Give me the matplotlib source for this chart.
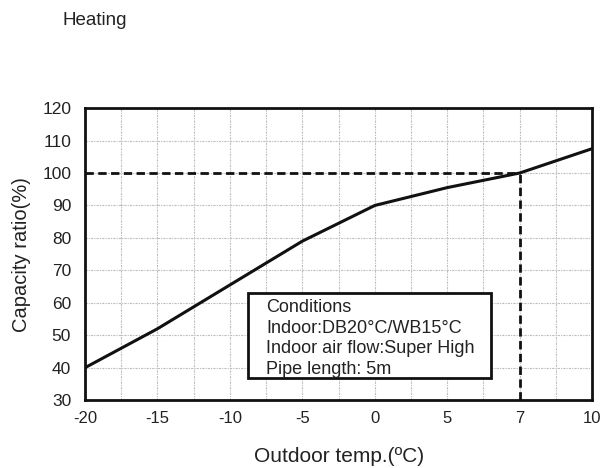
import numpy as np
import matplotlib
matplotlib.use("Agg")
import matplotlib.pyplot as plt
from matplotlib.patches import Rectangle

plt.rcParams['font.family'] = ['Liberation Sans', 'DejaVu Sans']

# outdoor temperature (deg C) and capacity ratio (%)
temps = [-20, -15, -10, -5, 0, 5, 7, 10]
capacity = [40, 52, 65.5, 79, 90, 95.5, 100, 107.5]

tick_temps = [-20, -15, -10, -5, 0, 5, 7, 10]
tick_labels = ['-20', '-15', '-10', '-5', '0', '5', '7', '10']
y_ticks = [30, 40, 50, 60, 70, 80, 90, 100, 110, 120]

rated_temp = 7
rated_cap = 100

conditions = ["Conditions",
              "Indoor:DB20°C/WB15°C",
              "Indoor air flow:Super High",
              "Pipe length: 5m"]

# ticks on the x axis are equally spaced, so use a piecewise scale
pos = np.arange(len(tick_temps))


def fwd(x):
    return np.interp(x, tick_temps, pos)


def inv(p):
    return np.interp(p, pos, tick_temps)


fig = plt.figure(figsize=(6.03, 4.68), dpi=100)
ax = fig.add_axes([0.141, 0.145, 0.841, 0.624])
ax.set_xscale('function', functions=(fwd, inv))

ax.plot(temps, capacity, color='#111111', linewidth=2.2, zorder=4)
ax.plot([tick_temps[0], rated_temp], [rated_cap, rated_cap], color='#111111',
        linewidth=2, linestyle=(0, (3, 1.6)), zorder=4)
ax.plot([rated_temp, rated_temp], [y_ticks[0], rated_cap], color='#111111',
        linewidth=2, linestyle=(0, (3, 1.6)), zorder=4)

ax.set_xlim(tick_temps[0], tick_temps[-1])
ax.set_ylim(y_ticks[0], y_ticks[-1])
ax.set_xticks(tick_temps)
ax.set_xticklabels(tick_labels)
ax.set_xticks(inv(pos[:-1] + 0.5), minor=True)
ax.set_yticks(y_ticks)
ax.tick_params(which='both', length=0)
ax.tick_params(axis='x', pad=8, labelsize=12, colors='#222222')
ax.tick_params(axis='y', pad=10, labelsize=12.5, colors='#222222')

ax.grid(which='both', color='#bdbdbd', linestyle=(0, (2, 1, 1, 1)), linewidth=0.8)
ax.grid(which='minor', axis='y', visible=False)
for s in ax.spines.values():
    s.set_linewidth(2)
    s.set_color('#111111')

ax.set_xlabel('Outdoor temp.(ºC)', fontsize=15, color='#222222', labelpad=15)
ax.set_ylabel('Capacity ratio(%)', fontsize=14.5, color='#222222', labelpad=8)

box = Rectangle((0.321, 0.075), 0.479, 0.291, transform=ax.transAxes,
                facecolor='white', edgecolor='#111111', linewidth=2, zorder=5)
ax.add_patch(box)
ax.text(0.357, 0.346, "\n".join(conditions), transform=ax.transAxes,
        fontsize=13, va='top', ha='left', linespacing=1.28, color='#222222', zorder=6)

fig.text(0.103, 0.957, 'Heating', fontsize=13.5, va='center', color='#222222')

fig.savefig('out.png')
